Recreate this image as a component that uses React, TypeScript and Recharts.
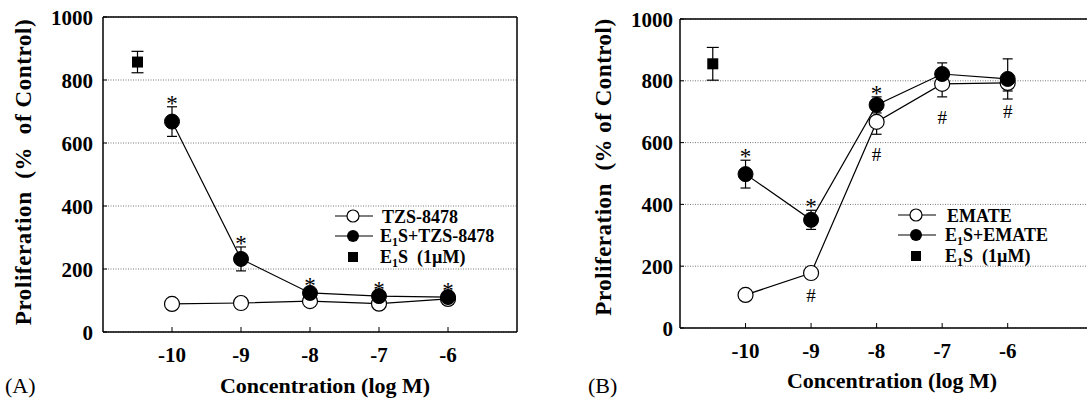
import { CartesianGrid, ComposedChart, ErrorBar, Legend, Line, ReferenceLine, Scatter, XAxis, YAxis } from "recharts";

const serif = "'Liberation Serif', 'Times New Roman', serif";

const concentrations = [-10, -9, -8, -7, -6];
const controlX = -10.5;
const xTicks = [-10, -9, -8, -7, -6];
const yTicks = [0, 200, 400, 600, 800, 1000];

// (A) TZS-8478
const tzsMean = [89, 92, 98, 90, 105];
const tzsSem = [6, 6, 6, 6, 6];
const e1sTzsMean = [668, 232, 124, 114, 111];
const e1sTzsSem = [47, 38, 12, 10, 10];
const e1sAMean = 857;
const e1sASem = 34;
const starsA = [true, true, true, true, true];
const hashA = [false, false, false, false, false];

// (B) EMATE
const emateMean = [107, 178, 667, 790, 793];
const emateSem = [8, 8, 40, 42, 26];
const e1sEmateMean = [498, 350, 722, 822, 806];
const e1sEmateSem = [45, 31, 26, 36, 65];
const e1sBMean = 855;
const e1sBSem = 53;
const starsB = [true, true, true, false, false];
const hashB = [false, true, true, true, true];

const toPoints = (means: number[], sems: number[]) =>
  concentrations.map((x, i) => ({ x, y: means[i], err: [sems[i], sems[i]] }));

const toMarks = (means: number[], sems: number[], mask: boolean[], sign: number) =>
  concentrations.map((x, i) => ({ x, y: means[i] + sign * sems[i] })).filter((_, i) => mask[i]);

function Sub({ name }: { name: string }) {
  // "E1S..." with subscript 1
  return (
    <>
      <tspan>E</tspan>
      <tspan dy={4} fontSize={12}>1</tspan>
      <tspan dy={-4}>{name}</tspan>
    </>
  );
}

function LegendBox({ openName, filledName, textX }: { openName: string; filledName: string; textX: number }) {
  const font = { fontFamily: serif, fontWeight: "bold" as const, fontSize: 18, fill: "#000" };
  return (
    <svg width={240} height={66}>
      <line x1={0} x2={38} y1={11} y2={11} stroke="#000" strokeWidth={1.2} />
      <circle cx={18} cy={11} r={6} fill="#fff" stroke="#000" strokeWidth={1.2} />
      <text x={textX + 2} y={18} {...font}>{openName}</text>
      <line x1={0} x2={38} y1={31} y2={31} stroke="#000" strokeWidth={1.2} />
      <circle cx={18} cy={31} r={6} fill="#000" />
      <text x={textX} y={37} {...font}>
        <Sub name={"S+" + filledName} />
      </text>
      <rect x={13} y={47} width={10} height={10} fill="#000" />
      <text x={textX} y={58} {...font}>
        <Sub name={"S\u00a0\u00a0(1\u00b5M)"} />
      </text>
    </svg>
  );
}

function XTick(props: any) {
  const { x, y, payload } = props;
  return (
    <g>
      <line x1={x} x2={x} y1={y} y2={y - 5} stroke="#000" strokeWidth={1} />
      <text x={x} y={y + 30} textAnchor="middle" fontFamily={serif} fontWeight="bold" fontSize={21} fill="#000">
        {payload.value}
      </text>
    </g>
  );
}

function YTick(props: any) {
  const { x, y, payload, gap } = props;
  return (
    <g>
      <line x1={x + gap} x2={x + gap + 4} y1={y} y2={y} stroke="#000" strokeWidth={1} />
      <text x={x} y={y + 7.5} textAnchor="end" fontFamily={serif} fontWeight="bold" fontSize={21} fill="#000">
        {payload.value}
      </text>
    </g>
  );
}

interface PanelCfg {
  left: number;
  width: number;
  margin: { top: number; right: number; bottom: number; left: number };
  xDomain: [number, number];
  openName: string;
  filledName: string;
  openMean: number[];
  openSem: number[];
  filledMean: number[];
  filledSem: number[];
  ctrlMean: number;
  ctrlSem: number;
  stars: boolean[];
  hashes: boolean[];
  yTitle: string;
  yTitlePos: [number, number];
  yTitleSpacing: number;
  xTitlePos: [number, number];
  tag: string;
  tagPos: [number, number];
  legendPos: [number, number];
  legendTextX: number;
  yTickGap: number;
}

function Panel({ cfg }: { cfg: PanelCfg }) {
  const open = toPoints(cfg.openMean, cfg.openSem);
  const filled = toPoints(cfg.filledMean, cfg.filledSem);
  const ctrl = [{ x: controlX, y: cfg.ctrlMean, err: [cfg.ctrlSem, cfg.ctrlSem] }];
  const stars = toMarks(cfg.filledMean, cfg.filledSem, cfg.stars, 1);
  const hashes = toMarks(cfg.openMean, cfg.openSem, cfg.hashes, -1);

  const titles = () => (
    <g>
      <text x={cfg.xTitlePos[0]} y={cfg.xTitlePos[1]} textAnchor="middle" fontFamily={serif} fontWeight="bold" fontSize={22} fill="#000">
        Concentration (log M)
      </text>
      <text x={cfg.tagPos[0]} y={cfg.tagPos[1]} fontFamily={serif} fontSize={22} fill="#000">
        {cfg.tag}
      </text>
      <text
        x={cfg.yTitlePos[0]}
        y={cfg.yTitlePos[1]}
        transform={`rotate(-90 ${cfg.yTitlePos[0]} ${cfg.yTitlePos[1]})`}
        textAnchor="middle"
        dominantBaseline="central"
        fontFamily={serif}
        fontWeight="bold"
        fontSize={23}
        letterSpacing={cfg.yTitleSpacing}
        fill="#000"
      >
        {cfg.yTitle}
      </text>
    </g>
  );

  return (
    <div style={{ position: "absolute", left: cfg.left, top: 0 }}>
      <ComposedChart width={cfg.width} height={398} margin={cfg.margin}>
        <CartesianGrid vertical={false} stroke="#777" strokeDasharray="1 1.5" />
        <XAxis
          type="number"
          dataKey="x"
          domain={cfg.xDomain}
          ticks={xTicks}
          interval={0}
          height={40}
          tickSize={0}
          tickMargin={0}
          tickLine={false}
          axisLine={{ stroke: "#000", strokeWidth: 1.5 }}
          tick={<XTick />}
          label={titles}
        />
        <YAxis
          type="number"
          domain={[0, 1000]}
          ticks={yTicks}
          interval={0}
          width={60}
          tickSize={0}
          tickMargin={cfg.yTickGap}
          tickLine={false}
          axisLine={{ stroke: "#000", strokeWidth: 1.5 }}
          tick={<YTick gap={cfg.yTickGap} />}
        />
        <ReferenceLine y={1000} stroke="#000" strokeWidth={1.5} />
        <ReferenceLine x={cfg.xDomain[1]} stroke="#000" strokeWidth={1.5} />
        <Line
          data={open}
          dataKey="y"
          stroke="#000"
          strokeWidth={1.2}
          dot={{ r: 7.5, fill: "#fff", stroke: "#000", strokeWidth: 1.2 }}
          activeDot={false}
          isAnimationActive={false}
        >
          <ErrorBar dataKey="err" direction="y" width={5} stroke="#000" strokeWidth={1.2} />
        </Line>
        <Line
          data={filled}
          dataKey="y"
          stroke="#000"
          strokeWidth={1.2}
          dot={{ r: 7.5, fill: "#000", stroke: "#000", strokeWidth: 1 }}
          activeDot={false}
          isAnimationActive={false}
        >
          <ErrorBar dataKey="err" direction="y" width={5} stroke="#000" strokeWidth={1.2} />
        </Line>
        <Scatter
          data={ctrl}
          dataKey="y"
          isAnimationActive={false}
          shape={(p: any) => <rect x={p.cx - 5.5} y={p.cy - 5.5} width={11} height={11} fill="#000" />}
        >
          <ErrorBar dataKey="err" direction="y" width={6} stroke="#000" strokeWidth={1.2} />
        </Scatter>
        <Scatter
          data={stars}
          dataKey="y"
          isAnimationActive={false}
          shape={(p: any) => (
            <text x={p.cx} y={p.cy + 4} textAnchor="middle" fontFamily={serif} fontSize={23} fill="#000" stroke="none">
              *
            </text>
          )}
        />
        <Scatter
          data={hashes}
          dataKey="y"
          isAnimationActive={false}
          shape={(p: any) => (
            <text x={p.cx} y={p.cy + 27} textAnchor="middle" fontFamily={serif} fontSize={19} fill="#000" stroke="none">
              #
            </text>
          )}
        />
        <Legend
          layout="vertical"
          align="center"
          verticalAlign="middle"
          wrapperStyle={{ left: cfg.legendPos[0], top: cfg.legendPos[1], width: 240, height: 66 }}
          content={() => <LegendBox openName={cfg.openName} filledName={cfg.filledName} textX={cfg.legendTextX} />}
        />
      </ComposedChart>
    </div>
  );
}

const panelA: PanelCfg = {
  left: 0,
  width: 540,
  margin: { top: 17, right: 23, bottom: 26, left: 43 },
  xDomain: [-11, -5],
  openName: "TZS-8478",
  filledName: "TZS-8478",
  openMean: tzsMean,
  openSem: tzsSem,
  filledMean: e1sTzsMean,
  filledSem: e1sTzsSem,
  ctrlMean: e1sAMean,
  ctrlSem: e1sASem,
  stars: starsA,
  hashes: hashA,
  yTitle: "Proliferation\u00a0\u00a0(%\u00a0\u00a0of Control)",
  yTitlePos: [23, 172],
  yTitleSpacing: 0.6,
  xTitlePos: [325, 393],
  tag: "(A)",
  tagPos: [5, 393],
  legendPos: [335, 205],
  legendTextX: 45,
  yTickGap: 10,
};

const panelB: PanelCfg = {
  left: 540,
  width: 600,
  margin: { top: 19, right: 34, bottom: 30, left: 80 },
  xDomain: [-11, -4.5],
  openName: "EMATE",
  filledName: "EMATE",
  openMean: emateMean,
  openSem: emateSem,
  filledMean: e1sEmateMean,
  filledSem: e1sEmateSem,
  ctrlMean: e1sBMean,
  ctrlSem: e1sBSem,
  stars: starsB,
  hashes: hashB,
  yTitle: "Proliferation\u00a0\u00a0(% of Control)",
  yTitlePos: [63, 167],
  yTitleSpacing: 0.5,
  xTitlePos: [352, 388],
  tag: "(B)",
  tagPos: [48, 393],
  legendPos: [358, 204],
  legendTextX: 47,
  yTickGap: 7,
};

export default function App() {
  return (
    <div style={{ position: "absolute", left: 0, top: 0, width: 1087, height: 398, overflow: "hidden", background: "#fff" }}>
      <Panel cfg={panelA} />
      <Panel cfg={panelB} />
    </div>
  );
}
